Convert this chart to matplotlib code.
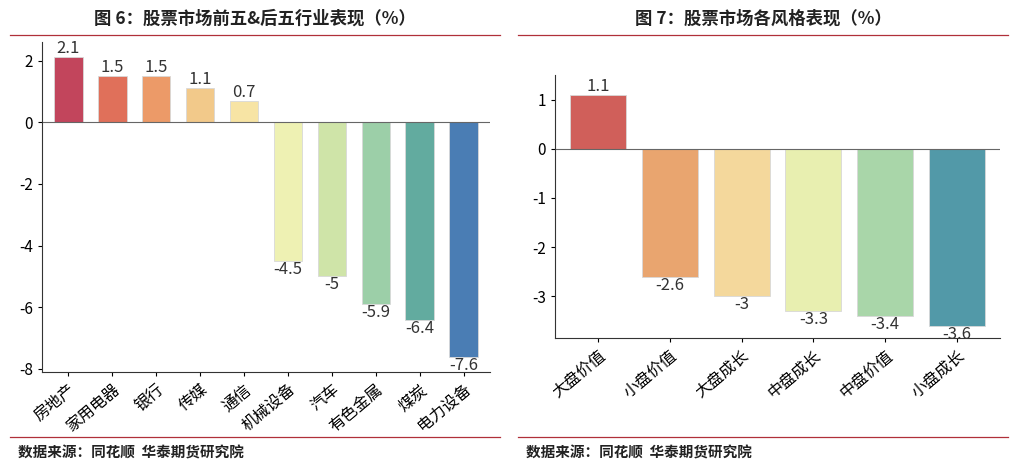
import matplotlib
matplotlib.use("Agg")
import matplotlib.pyplot as plt

plt.rcParams['font.family'] = ['Noto Sans CJK SC', 'DejaVu Sans']

# données
ind_names = ["房地产", "家用电器", "银行", "传媒", "通信", "机械设备", "汽车", "有色金属", "煤炭", "电力设备"]
ind_vals = [2.1, 1.5, 1.5, 1.1, 0.7, -4.5, -5, -5.9, -6.4, -7.6]
ind_labels = ["2.1", "1.5", "1.5", "1.1", "0.7", "-4.5", "-5", "-5.9", "-6.4", "-7.6"]
ind_colors = ["#c2455c", "#e0705a", "#ec9a68", "#f2c98a", "#f7e4a4",
              "#eef1b3", "#cfe4a8", "#9ccfa8", "#62ab9f", "#4a7db4"]

sty_names = ["大盘价值", "小盘价值", "大盘成长", "中盘成长", "中盘价值", "小盘成长"]
sty_vals = [1.1, -2.6, -3, -3.3, -3.4, -3.6]
sty_labels = ["1.1", "-2.6", "-3", "-3.3", "-3.4", "-3.6"]
sty_colors = ["#d05f5a", "#e9a56f", "#f4d89c", "#e8efb0", "#a9d6a9", "#5299a8"]

W, H = 1015, 469
fig = plt.figure(figsize=(W / 100, H / 100), dpi=100)


def px(x0, y0, x1, y1):
    return [x0 / W, 1 - y1 / H, (x1 - x0) / W, (y1 - y0) / H]


def panel(rect, names, vals, labels, colors, ylim, yticks, width, off):
    ax = fig.add_axes(rect)
    x = range(len(vals))
    ax.bar(x, vals, color=colors, width=width, edgecolor="#d8d8d8", linewidth=0.6)
    ax.axhline(0, color="#666666", lw=0.8)
    for i, (v, t) in enumerate(zip(vals, labels)):
        ax.text(i, v + off if v > 0 else v + off / 3, t,
                ha="center", va="bottom" if v > 0 else "top",
                fontsize=12, color="#333333", fontweight="light")
    ax.set_ylim(*ylim)
    ax.set_xlim(-0.6, len(vals) - 0.4)
    ax.set_yticks(yticks)
    ax.set_yticklabels([str(t) for t in yticks], fontsize=11)
    ax.set_xticks(list(x))
    ax.set_xticklabels(names, rotation=40, ha="right", rotation_mode="anchor", fontsize=11.5)
    for s in ["top", "right"]:
        ax.spines[s].set_visible(False)
    ax.spines["left"].set_color("#333333")
    ax.spines["bottom"].set_color("#333333")
    ax.tick_params(length=3)
    return ax


panel(px(42, 42, 490, 372), ind_names, ind_vals, ind_labels, ind_colors,
      (-8.1, 2.6), [2, 0, -2, -4, -6, -8], 0.65, 0.0)
panel(px(555, 75, 1000, 338), sty_names, sty_vals, sty_labels, sty_colors,
      (-3.85, 1.5), [1, 0, -1, -2, -3], 0.78, 0.0)

red = "#b0303a"
for x0, x1, title in [(10, 500, "图 6：股票市场前五&后五行业表现（%）"),
                      (518, 1008, "图 7：股票市场各风格表现（%）")]:
    fig.text((x0 + x1) / 2 / W, 1 - 19 / H, title, ha="center", va="center",
             fontsize=12.5, fontweight="bold", color="#222222")
    fig.add_artist(plt.Line2D([x0 / W, x1 / W], [1 - 35 / H] * 2, color=red, lw=0.9))
    fig.add_artist(plt.Line2D([x0 / W, x1 / W], [1 - 437 / H] * 2, color=red, lw=0.9))
    fig.text((x0 + 8) / W, 1 - 453 / H, "数据来源：同花顺  华泰期货研究院",
             ha="left", va="center", fontsize=10.5, fontweight="bold", color="#222222")

fig.savefig("out.png", dpi=100)
